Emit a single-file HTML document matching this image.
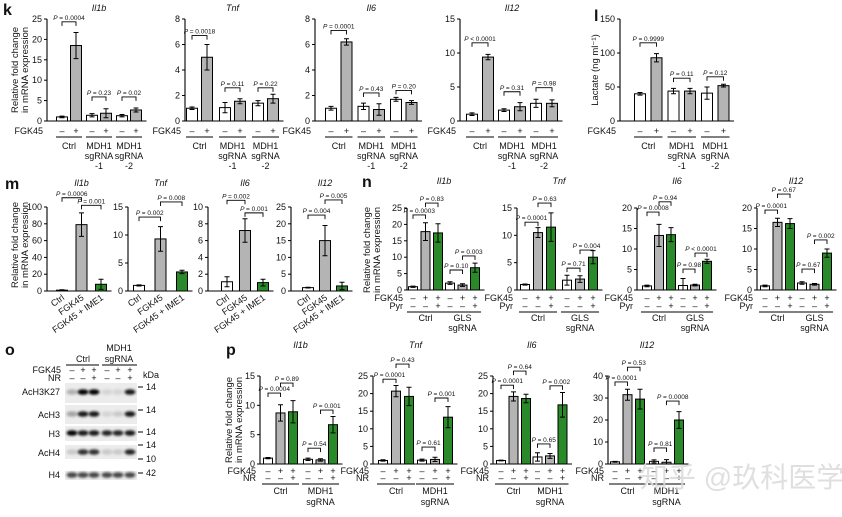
<!DOCTYPE html>
<html><head><meta charset="utf-8"><style>
html,body{margin:0;padding:0;background:#fff;}
svg{display:block;font-family:"Liberation Sans","Noto Sans CJK SC",sans-serif;}
</style></head><body>
<svg id="fig" width="842" height="517" viewBox="0 0 842 517" xmlns="http://www.w3.org/2000/svg">
<defs><filter id="bl" x="-50%" y="-50%" width="200%" height="200%"><feGaussianBlur stdDeviation="1.2"/></filter></defs>
</svg>
<script>
// ---------- data ----------
const kSigns = ['–','+','–','+','–','+'];
const kGroups = [['Ctrl'],['MDH1','sgRNA','-1'],['MDH1','sgRNA','-2']];
const kIl1bVals = [1,18.5,1.4,1.9,1.3,2.7];
const kIl1bErr = [0.2,3.2,0.4,1.1,0.3,0.5];
const kIl1bP = [[0,1,24.3,'= 0.0004'],[2,3,5.9,'= 0.23'],[4,5,5.9,'= 0.02']];
const kTnfVals = [1,5,1.05,1.55,1.4,1.75];
const kTnfErr = [0.1,1,0.4,0.2,0.2,0.35];
const kTnfP = [[0,1,6.7,'= 0.0018'],[2,3,2.6,'= 0.11'],[4,5,2.6,'= 0.22']];
const kIl6Vals = [1,6.2,1.15,0.9,1.7,1.45];
const kIl6Err = [0.15,0.25,0.25,0.45,0.15,0.15];
const kIl6P = [[0,1,7.1,'= 0.0001'],[2,3,2.2,'= 0.43'],[4,5,2.4,'= 0.20']];
const kIl12Vals = [1,9.4,1.6,2.1,2.6,2.6];
const kIl12Err = [0.2,0.4,0.2,0.6,0.6,0.5];
const kIl12P = [[0,1,11.5,'< 0.0001'],[2,3,4.3,'= 0.31'],[4,5,4.9,'= 0.98']];
const lVals = [40,93,44,44,41,52];
const lErr = [2,6,4,4,9,2];
const lP = [[0,1,115,'= 0.9999'],[2,3,63,'= 0.11'],[4,5,65,'= 0.12']];

const mCats = ['Ctrl','FGK45','FGK45 + IME1'];
const mIl1bVals = [1,79,8];
const mIl1bErr = [0.5,14,6];
const mIl1bP = [[0,1,111,'= 0.0006'],[1,2,102,'= 0.001']];
const mTnfVals = [1,9.3,3.4];
const mTnfErr = [0.1,2.2,0.3];
const mTnfP = [[0,1,13.2,'= 0.002'],[1,2,15.9,'= 0.008']];
const mIl6Vals = [1.1,7.2,1.0];
const mIl6Err = [0.6,1.4,0.4];
const mIl6P = [[0,1,10.8,'= 0.002'],[1,2,9.3,'= 0.001']];
const mIl12Vals = [1,15,1.5];
const mIl12Err = [0.1,4.5,1.1];
const mIl12P = [[0,1,22.6,'= 0.004'],[1,2,27.1,'= 0.005']];

const nSigns1 = ['–','+','+','–','+','+'];
const nSigns2 = ['–','–','+','–','–','+'];
const nGroups = [['Ctrl'],['GLS','sgRNA']];
const nIl1bVals = [1,17.8,17.4,2.1,1.5,6.8];
const nIl1bErr = [0.2,2.7,2.8,0.4,0.4,1.4];
const nIl1bP = [[0,1,22.9,'= 0.0003'],[1,2,26.5,'= 0.83'],[3,4,6.1,'= 0.10'],[4,5,10.4,'= 0.003']];
const nTnfVals = [1,10.5,11.5,1.8,2,6];
const nTnfErr = [0.1,0.9,2.6,0.9,0.6,1.2];
const nTnfP = [[0,1,12.4,'= 0.0001'],[1,2,15.9,'= 0.63'],[3,4,4.0,'= 0.71'],[4,5,7.3,'= 0.004']];
const nIl6Vals = [1,13.3,13.5,1.1,1.2,7];
const nIl6Err = [0.2,2.7,1.7,1.7,0.2,0.5];
const nIl6P = [[0,1,19,'= 0.0008'],[1,2,21.5,'= 0.94'],[3,4,5.1,'= 0.98'],[4,5,9,'< 0.0001']];
const nIl12Vals = [1,16.5,16.2,1.7,1.4,9];
const nIl12Err = [0.2,1,1.2,0.3,0.2,1];
const nIl12P = [[0,1,19.5,'= 0.0001'],[1,2,23.4,'= 0.67'],[3,4,5.1,'= 0.67'],[4,5,12.2,'= 0.002']];

const pGroups = [['Ctrl'],['MDH1','sgRNA']];
const pIl1bVals = [1,8.7,8.9,0.8,0.7,6.7];
const pIl1bErr = [0.1,1.4,1.9,0.2,0.2,1.4];
const pIl1bP = [[0,1,12.1,'= 0.0004'],[1,2,13.8,'= 0.89'],[3,4,2.7,'= 0.54'],[4,5,9.2,'= 0.001']];
const pTnfVals = [1,20.7,19.2,1.1,1.3,13.3];
const pTnfErr = [0.2,1.6,2.6,0.3,0.6,3];
const pTnfP = [[0,1,24.1,'= 0.0001'],[1,2,28.4,'= 0.43'],[3,4,4.8,'= 0.61'],[4,5,18.75,'= 0.001']];
const pIl6Vals = [1,19.2,18.6,2,2.3,16.8];
const pIl6Err = [0.1,1.3,1.2,1.2,0.7,3.5];
const pIl6P = [[0,1,22.4,'= 0.0001'],[1,2,26.4,'= 0.64'],[3,4,5.7,'= 0.65'],[4,5,22.2,'= 0.002']];
const pIl12Vals = [1,31.5,29.5,1.2,0.8,20];
const pIl12Err = [0.2,2.5,4.5,0.7,1.2,3.8];
const pIl12P = [[0,1,37.3,'= 0.0001'],[1,2,44,'= 0.53'],[3,4,7.3,'= 0.81'],[4,5,28.6,'= 0.0008']];

// ---------- helpers ----------
const NS='http://www.w3.org/2000/svg';
const svg=document.getElementById('fig');
const W='#ffffff', G='#b4b4b4', GR='#2a8a2a';
const C2=[W,G,W,G,W,G], C3=[W,G,GR,W,G,GR], CM=[W,G,GR];
function mk(tag,attrs,parent){const e=document.createElementNS(NS,tag);for(const k in attrs)e.setAttribute(k,attrs[k]);(parent||svg).appendChild(e);return e;}
function txt(parent,x,y,s,size,anchor,extra){const t=mk('text',Object.assign({x:x,y:y,'font-size':size,'text-anchor':anchor||'middle',fill:'#111'},extra||{}),parent);t.textContent=s;return t;}

function chart(cfg,vals,errs,cols,brs,signRows,groups){
  const g=mk('g',{});
  
  
  const y=v=>cfg.bot-v/cfg.max*(cfg.bot-cfg.top);
  const bx=i=>cfg.ax+cfg.first+Math.floor(i/cfg.gsize)*cfg.gstep+(i%cfg.gsize)*cfg.step;
  const n=vals.length;
  const axis=mk('path',{d:`M${cfg.ax} ${cfg.top} V${cfg.bot} H${bx(n-1)+cfg.bw/2+5}`,fill:'none',stroke:'#000','stroke-width':1.1},g);
  
  
  for(let t=0;t<=cfg.max+1e-9;t+=cfg.tstep){
    mk('line',{x1:cfg.ax-3,x2:cfg.ax,y1:y(t),y2:y(t),stroke:'#000'},g);
    const tl=txt(g,cfg.ax-5,y(t)+3,String(t),9,'end');
    
    
  }
  for(let i=0;i<n;i++){
    const x=bx(i), v=vals[i], e=errs[i];
    const r=mk('rect',{x:x-cfg.bw/2,y:y(v),width:cfg.bw,height:cfg.bot-y(v),fill:cols[i],stroke:'#000','stroke-width':1},g);
    
    
    const eb=mk('path',{d:`M${x} ${y(Math.max(0,v-e))} V${y(v+e)} M${x-2.5} ${y(v+e)} H${x+2.5} M${x-2.5} ${y(Math.max(0,v-e))} H${x+2.5}`,stroke:'#000','stroke-width':1,fill:'none'},g);
    
    
  }
  brs.forEach(b=>{
    const yy=y(b[2]), x1=bx(b[0]), x2=bx(b[1]);
    const p=mk('path',{d:`M${x1} ${yy+4} V${yy} H${x2} V${yy+4}`,fill:'none',stroke:'#000','stroke-width':0.9},g);
    
    
    const t=mk('text',{x:(x1+x2)/2,y:yy-2,'font-size':6.5,'text-anchor':'middle',fill:'#111'},g);
    
    
    const ts=mk('tspan',{'font-style':'italic'},t);ts.textContent='P ';
    const ts2=mk('tspan',{},t);ts2.textContent=b[3];
  });
  const tt=txt(g,cfg.tx!==undefined?cfg.tx:(bx(0)+bx(n-1))/2,cfg.ty,cfg.title,9,'middle',{'font-style':'italic'});
  
  
  if(signRows){
    signRows.forEach((row,ri)=>{
      const lab=txt(g,cfg.ax-4,cfg.signY[ri],row.label,9,'end');
      
      
      row.s.forEach((s,i)=>{
        const st=txt(g,bx(i),cfg.signY[ri],s,9,'middle');
        
        
      });
    });
  }
  if(groups){
    groups.forEach((lines,gi)=>{
      const a=bx(gi*cfg.gsize), b=bx(gi*cfg.gsize+cfg.gsize-1);
      const gl=mk('line',{x1:a-6,x2:b+6,y1:cfg.lineY,y2:cfg.lineY,stroke:'#000'},g);
      
      
      lines.forEach((s,li)=>{
        const t=txt(g,(a+b)/2,cfg.labY+li*cfg.labH,s,9,'middle');
        
        
      });
    });
  }
  if(cfg.cats){
    cfg.cats.forEach((c,i)=>{
      const x=bx(i)+3, yy=cfg.bot+8;
      const t=txt(g,x,yy,c,9,'end',{transform:`rotate(-35 ${x} ${yy})`});
      
      
    });
  }
}
function ylab(x,cy,lines){
  lines.forEach((s,i)=>{
    const t=txt(svg,x+i*10,cy,s,9.5,'middle',{transform:`rotate(-90 ${x+i*10} ${cy})`});
    
    
  });
}
function letter(x,y,s){const t=txt(svg,x,y,s,16,'start',{'font-weight':'bold'});}

// ---------- panel k & l ----------
const kBase={top:19,bot:121,gsize:2,bw:11,ty:11,signY:[134],lineY:137,labY:149,labH:10};
const kRows=[{label:'FGK45',s:kSigns}];
chart(Object.assign({},kBase,{name:'k-il1b-chart',title:'Il1b',ax:47,max:25,tstep:5,first:15,step:14,gstep:30}),kIl1bVals,kIl1bErr,C2,kIl1bP,kRows,kGroups);
chart(Object.assign({},kBase,{name:'k-tnf-chart',title:'Tnf',ax:185,max:8,tstep:2,first:7,step:15,gstep:33}),kTnfVals,kTnfErr,C2,kTnfP,kRows,kGroups);
chart(Object.assign({},kBase,{name:'k-il6-chart',title:'Il6',ax:315,max:8,tstep:2,first:16,step:15.5,gstep:32.5}),kIl6Vals,kIl6Err,C2,kIl6P,kRows,kGroups);
chart(Object.assign({},kBase,{name:'k-il12-chart',title:'Il12',ax:460,max:15,tstep:5,first:12,step:16,gstep:32}),kIl12Vals,kIl12Err,C2,kIl12P,kRows,kGroups);
chart(Object.assign({},kBase,{name:'l-lactate-chart',title:'',ax:620,max:150,tstep:50,first:20,step:16.5,gstep:33.5}),lVals,lErr,C2,lP,kRows,kGroups);
ylab(18,70,['Relative fold change','in mRNA expression']);
ylab(598,70,['Lactate (ng ml⁻¹)']);
letter(3,15,'k'); letter(594,21,'l');

// ---------- panel m ----------
const mBase={top:207,bot:291,gsize:3,gstep:0,bw:11,ty:186,cats:mCats};
chart(Object.assign({},mBase,{name:'m-il1b-chart',title:'Il1b',ax:47,max:100,tstep:20,first:15,step:19.5}),mIl1bVals,mIl1bErr,CM,mIl1bP);
chart(Object.assign({},mBase,{name:'m-tnf-chart',title:'Tnf',ax:128,max:15,tstep:5,first:11,step:21.5}),mTnfVals,mTnfErr,CM,mTnfP);
chart(Object.assign({},mBase,{name:'m-il6-chart',title:'Il6',ax:208,max:10,tstep:2,first:19,step:18}),mIl6Vals,mIl6Err,CM,mIl6P);
chart(Object.assign({},mBase,{name:'m-il12-chart',title:'Il12',ax:291,max:25,tstep:5,first:17,step:17}),mIl12Vals,mIl12Err,CM,mIl12P);
ylab(18,245,['Relative fold change','in mRNA expression']);
letter(5,189,'m');

// ---------- panel n ----------
const nBase={top:208,bot:290,gsize:3,bw:9,ty:184,signY:[301,309],lineY:312,labY:321,labH:10};
const nRows=[{label:'FGK45',s:nSigns1},{label:'Pyr',s:nSigns2}];
chart(Object.assign({},nBase,{name:'n-il1b-chart',title:'Il1b',ax:407,max:25,tstep:5,first:6,step:12.5,gstep:37}),nIl1bVals,nIl1bErr,C3,nIl1bP,nRows,nGroups);
chart(Object.assign({},nBase,{name:'n-tnf-chart',title:'Tnf',ax:517,max:15,tstep:5,first:8,step:13,gstep:42}),nTnfVals,nTnfErr,C3,nTnfP,nRows,nGroups);
chart(Object.assign({},nBase,{name:'n-il6-chart',title:'Il6',ax:637,max:20,tstep:5,first:10,step:12,gstep:36}),nIl6Vals,nIl6Err,C3,nIl6P,nRows,nGroups);
chart(Object.assign({},nBase,{name:'n-il12-chart',title:'Il12',ax:757,max:20,tstep:5,first:8,step:12.5,gstep:37}),nIl12Vals,nIl12Err,C3,nIl12P,nRows,nGroups);
ylab(370,250,['Relative fold change','in mRNA expression']);
letter(362,187,'n');

// ---------- panel p ----------
const pBase={top:376,bot:464,gsize:3,bw:9,ty:348,signY:[474,481],lineY:484,labY:494,labH:11};
const pRows=[{label:'FGK45',s:nSigns1},{label:'NR',s:nSigns2}];
chart(Object.assign({},pBase,{name:'p-il1b-chart',title:'Il1b',ax:260,max:15,tstep:5,first:8,step:12.5,gstep:40}),pIl1bVals,pIl1bErr,C3,pIl1bP,pRows,pGroups);
chart(Object.assign({},pBase,{name:'p-tnf-chart',title:'Tnf',ax:373,max:25,tstep:5,first:10,step:13,gstep:39}),pTnfVals,pTnfErr,C3,pTnfP,pRows,pGroups);
chart(Object.assign({},pBase,{name:'p-il6-chart',title:'Il6',ax:493,max:25,tstep:5,first:8,step:12.5,gstep:36.5}),pIl6Vals,pIl6Err,C3,pIl6P,pRows,pGroups);
chart(Object.assign({},pBase,{name:'p-il12-chart',title:'Il12',ax:608,max:40,tstep:10,first:7,step:12.5,gstep:39}),pIl12Vals,pIl12Err,C3,pIl12P,pRows,pGroups);
ylab(232,420,['Relative fold change','in mRNA expression']);
letter(226,355,'p');

// ---------- panel o (blot) ----------
letter(5,355,'o');
const lanes=[72,83,94,107,118,130];
const blotRows=[
 {name:'AcH3K27',y0:383,h:20,mid:392,lab:395,int:[0.25,1,1,0.1,0.1,0.9]},
 {name:'AcH3',y0:405,h:19,mid:414,lab:418,int:[0.3,0.9,0.9,0.1,0.15,0.9]},
 {name:'H3',y0:426,h:15,mid:433,lab:437,int:[1,0.9,0.9,0.85,0.85,0.9]},
 {name:'AcH4',y0:445,h:14,mid:452,lab:456,int:[0.15,0.8,0.8,0.15,0.15,0.85]},
 {name:'H4',y0:471,h:9,mid:475,lab:478,int:[0.7,0.7,0.7,0.7,0.7,0.7]}
];
const og=mk('g',{});


blotRows.forEach(r=>{
  const bg=mk('rect',{x:65,y:r.y0,width:72,height:r.h,fill:'#ececec'},og);
  
  
  r.int.forEach((v,i)=>{
    const b=mk('ellipse',{cx:lanes[i],cy:r.mid,rx:5.5,ry:2.8,fill:'#000','fill-opacity':v,filter:'url(#bl)'},og);
    
    
  });
  const l=txt(og,60,r.lab,r.name,9,'end');
  
  
});
[[390,'14'],[413,'14'],[435,'14'],[448,'14'],[462,'10'],[476,'42']].forEach(m=>{
  mk('line',{x1:138,x2:143,y1:m[0]-3,y2:m[0]-3,stroke:'#000'},og);
  const t=txt(og,146,m[0],m[1],9,'start');
  
  
});
txt(og,143,378,'kDa',9,'start');
txt(og,83,362,'Ctrl',9,'middle');
txt(og,119,351,'MDH1',9,'middle');
txt(og,119,362,'sgRNA',9,'middle');
mk('line',{x1:66,x2:99,y1:365,y2:365,stroke:'#000'},og);
mk('line',{x1:102,x2:137,y1:365,y2:365,stroke:'#000'},og);
txt(og,61,373,'FGK45',9,'end');
txt(og,61,381,'NR',9,'end');
['–','+','+','–','+','+'].forEach((s,i)=>txt(og,lanes[i],373,s,9,'middle'));
['–','–','+','–','–','+'].forEach((s,i)=>txt(og,lanes[i],381,s,9,'middle'));

// watermark
const wm=txt(svg,640,487,'知乎 @玖科医学',28,'start',{fill:'#d9d9d9','fill-opacity':0.85});


</script>
</body></html>
